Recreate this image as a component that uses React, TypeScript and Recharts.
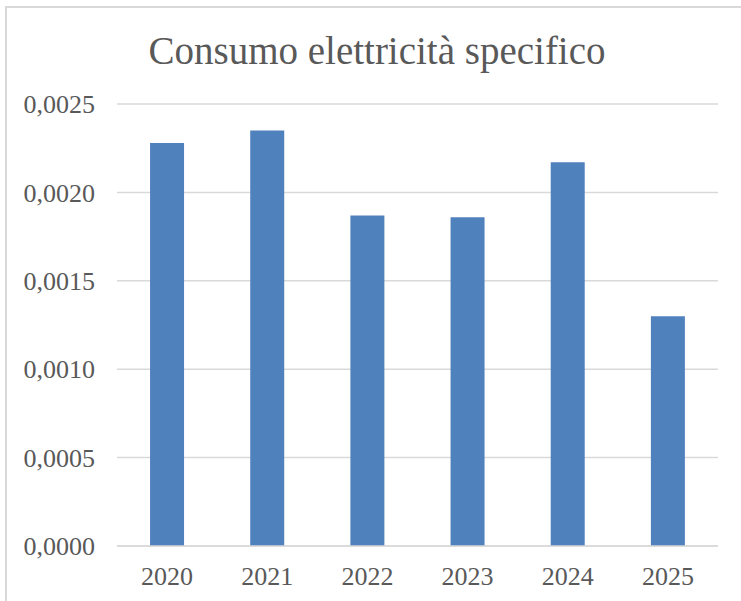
import React from "react";
import { BarChart, Bar, XAxis, YAxis, CartesianGrid } from "recharts";

const years = ["2020", "2021", "2022", "2023", "2024", "2025"];
const consumo = [0.00228, 0.00235, 0.00187, 0.00186, 0.00217, 0.0013];
const yTicks = [0, 0.0005, 0.001, 0.0015, 0.002, 0.0025];
const title = "Consumo elettricità specifico";

const data = years.map((y, i) => ({ year: y, value: consumo[i] }));
const fmt = (v: number) => v.toFixed(4).replace(".", ",");
const FONT = "'Liberation Serif', 'DejaVu Serif', serif";

export default function App() {
  return (
    <div style={{ position: "fixed", left: 0, top: 0, width: 741, height: 601, overflow: "hidden", background: "#fff" }}>
      <div style={{ position: "absolute", left: 5, top: 6, width: 800, height: 700, border: "2px solid #d9d9d9" }} />
      <div style={{ position: "absolute", left: 0, top: 28, width: 754, textAlign: "center", fontFamily: FONT, fontSize: 39, color: "#595959", lineHeight: "46px" }}>
        {title}
      </div>
      <div style={{ position: "absolute", left: 0, top: 0 }}>
        <BarChart width={741} height={601} data={data} margin={{ top: 104, right: 23, bottom: 5, left: 0 }} barCategoryGap="33%">
          <CartesianGrid vertical={false} stroke="#d9d9d9" strokeWidth={1.5} />
          <XAxis dataKey="year" height={50} axisLine={{ stroke: "#d9d9d9", strokeWidth: 1.5 }} tickLine={false} tickMargin={15} tick={{ fill: "#595959", fontSize: 26, fontFamily: FONT }} />
          <YAxis width={117} domain={[0, 0.0025]} ticks={yTicks} tickFormatter={fmt} axisLine={false} tickLine={false} tickMargin={16} tick={{ fill: "#595959", fontSize: 26, fontFamily: FONT }} />
          <Bar dataKey="value" fill="#4f81bd" isAnimationActive={false} />
        </BarChart>
      </div>
    </div>
  );
}
